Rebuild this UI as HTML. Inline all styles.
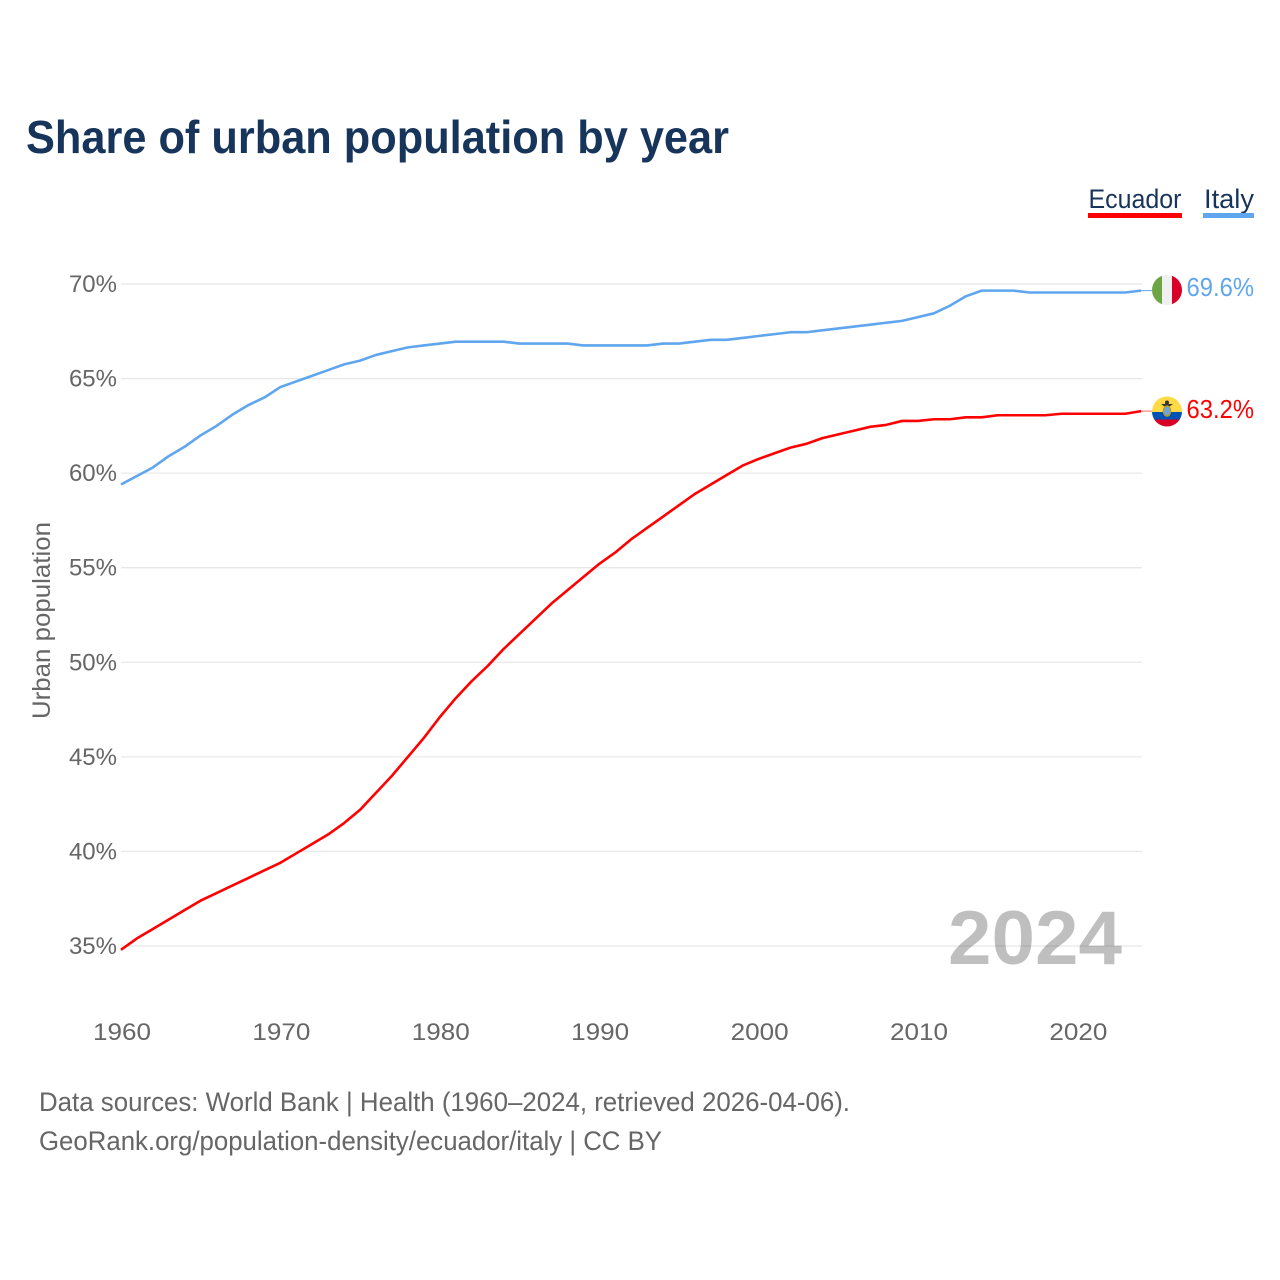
<!DOCTYPE html>
<html lang="en">
<head>
<meta charset="utf-8">
<title>Share of urban population by year</title>
<style>
html,body{margin:0;padding:0;background:#fff}
svg{display:block}
text{font-family:"Liberation Sans",sans-serif}
</style>
</head>
<body>
<svg id="chart" xmlns="http://www.w3.org/2000/svg" width="1280" height="1280" viewBox="0 0 1280 1280">
  <defs>
    <clipPath id="clip-italy"><circle cx="1167" cy="290" r="15"/></clipPath>
    <clipPath id="clip-ecuador"><circle cx="1167" cy="411.5" r="15"/></clipPath>
  </defs>
  <rect width="1280" height="1280" fill="#fff"/>
  <text x="26" y="153" font-size="46" font-weight="700" fill="#17345a" textLength="703" lengthAdjust="spacingAndGlyphs">Share of urban population by year</text>

  <g>
    <g>
      <text x="1088.5" y="208" font-size="27" fill="#17345a" textLength="93" lengthAdjust="spacingAndGlyphs">Ecuador</text>
      <rect x="1088" y="213" width="94" height="5" fill="#ff0000"/>
    </g>
    <g>
      <text x="1204" y="208" font-size="27" fill="#17345a" textLength="50" lengthAdjust="spacingAndGlyphs">Italy</text>
      <rect x="1203" y="213" width="51" height="5" fill="#5fa6ee"/>
    </g>
  </g>

  <g id="grid"></g>
  <g id="y-axis"></g>
  <g id="x-axis"></g>
  <text transform="translate(50,719) rotate(-90)" font-size="25" fill="#666" textLength="197" lengthAdjust="spacingAndGlyphs">Urban population</text>

  <text x="948" y="964" font-size="76" font-weight="700" fill="#000" fill-opacity="0.25" textLength="174" lengthAdjust="spacingAndGlyphs">2024</text>

  <g id="series"></g>

  <g clip-path="url(#clip-italy)">
    <rect x="1152" y="275" width="10" height="30" fill="#6da544"/>
    <rect x="1162" y="275" width="10" height="30" fill="#f0f0f0"/>
    <rect x="1172" y="275" width="10" height="30" fill="#d80027"/>
  </g>
  <g clip-path="url(#clip-ecuador)">
    <rect x="1152" y="396" width="30" height="16" fill="#ffda44"/>
    <rect x="1152" y="412" width="30" height="7.5" fill="#0052b4"/>
    <rect x="1152" y="419.5" width="30" height="8" fill="#d80027"/>
    <path d="M1161 404 L1173 404 L1169.5 406.5 L1164.5 406.5 Z" fill="#333"/>
    <circle cx="1167" cy="402.5" r="2" fill="#333"/>
    <ellipse cx="1167" cy="411" rx="3.6" ry="5" fill="#6da5dc" stroke="#b89a2a" stroke-width="1.4"/>
  </g>

  <text id="label-italy" x="1186.5" y="296" font-size="26" fill="#5fa6ee" textLength="67.5" lengthAdjust="spacingAndGlyphs">69.6%</text>
  <text id="label-ecuador" x="1186.5" y="418" font-size="26" fill="#ff0000" textLength="67.5" lengthAdjust="spacingAndGlyphs">63.2%</text>

  <g>
    <text x="39" y="1111" font-size="27" fill="#666" textLength="811" lengthAdjust="spacingAndGlyphs">Data sources: World Bank | Health (1960–2024, retrieved 2026-04-06).</text>
    <text x="39" y="1150" font-size="27" fill="#666" textLength="623" lengthAdjust="spacingAndGlyphs">GeoRank.org/population-density/ecuador/italy | CC BY</text>
  </g>
</svg>

<script>
const startYear = 1960;
const yTicks = [35, 40, 45, 50, 55, 60, 65, 70];
const xTicks = [1960, 1970, 1980, 1990, 2000, 2010, 2020];
const ecuadorValues = [
  34.8, 35.4, 35.9, 36.4, 36.9, 37.4, 37.8, 38.2, 38.6, 39.0,
  39.4, 39.9, 40.4, 40.9, 41.5, 42.2, 43.1, 44.0, 45.0, 46.0,
  47.1, 48.1, 49.0, 49.8, 50.7, 51.5, 52.3, 53.1, 53.8, 54.5,
  55.2, 55.8, 56.5, 57.1, 57.7, 58.3, 58.9, 59.4, 59.9, 60.4,
  60.75, 61.05, 61.35, 61.55, 61.85, 62.05, 62.25, 62.45, 62.55, 62.76,
  62.76, 62.85, 62.85, 62.95, 62.95, 63.06, 63.06, 63.06, 63.06, 63.14,
  63.14, 63.14, 63.14, 63.14, 63.28
];
const italyValues = [
  59.4, 59.85, 60.3, 60.9, 61.4, 62.0, 62.5, 63.1, 63.6, 64.0,
  64.55, 64.85, 65.15, 65.45, 65.75, 65.95, 66.25, 66.45, 66.65, 66.75,
  66.85, 66.95, 66.95, 66.95, 66.95, 66.85, 66.85, 66.85, 66.85, 66.75,
  66.75, 66.75, 66.75, 66.75, 66.85, 66.85, 66.95, 67.05, 67.05, 67.15,
  67.25, 67.35, 67.45, 67.45, 67.55, 67.65, 67.75, 67.85, 67.95, 68.05,
  68.25, 68.45, 68.85, 69.35, 69.65, 69.65, 69.65, 69.55, 69.55, 69.55,
  69.55, 69.55, 69.55, 69.55, 69.65
];

const SVG_NS = 'http://www.w3.org/2000/svg';
const xScale = year => 121 + (year - 1960) * 15.94;
const yScale = value => 284 + (70 - value) * 18.914;

const gridGroup = document.getElementById('grid');
const yAxisGroup = document.getElementById('y-axis');
const xAxisGroup = document.getElementById('x-axis');
const seriesGroup = document.getElementById('series');

yTicks.forEach(tick => {
  const line = document.createElementNS(SVG_NS, 'line');
  
  
  line.setAttribute('x1', 121);
  line.setAttribute('x2', 1142);
  line.setAttribute('y1', yScale(tick));
  line.setAttribute('y2', yScale(tick));
  line.setAttribute('stroke', '#e8e8e8');
  line.setAttribute('stroke-width', '1.3');
  gridGroup.appendChild(line);

  const label = document.createElementNS(SVG_NS, 'text');
  
  
  label.setAttribute('x', 117);
  label.setAttribute('y', yScale(tick) + 8);
  label.setAttribute('text-anchor', 'end');
  label.setAttribute('font-size', '24');
  label.setAttribute('fill', '#666');
  label.textContent = tick + '%';
  yAxisGroup.appendChild(label);
});

xTicks.forEach(tick => {
  const label = document.createElementNS(SVG_NS, 'text');
  
  
  label.setAttribute('x', xScale(tick) + 1);
  label.setAttribute('y', 1040);
  label.setAttribute('text-anchor', 'middle');
  label.setAttribute('font-size', '24.5');
  label.setAttribute('fill', '#666');
  label.setAttribute('textLength', '58');
  label.setAttribute('lengthAdjust', 'spacingAndGlyphs');
  label.textContent = tick;
  xAxisGroup.appendChild(label);
});

function linePoints(values) {
  return values.map((v, i) => xScale(startYear + i).toFixed(2) + ',' + yScale(v).toFixed(2)).join(' ');
}

const lastIndex = italyValues.length - 1;

const ecuadorLine = document.createElementNS(SVG_NS, 'polyline');


ecuadorLine.setAttribute('points', linePoints(ecuadorValues));
ecuadorLine.setAttribute('fill', 'none');
ecuadorLine.setAttribute('stroke', '#ff0000');
ecuadorLine.setAttribute('stroke-width', '2.6');
ecuadorLine.setAttribute('stroke-linejoin', 'round');
seriesGroup.appendChild(ecuadorLine);

const italyLine = document.createElementNS(SVG_NS, 'polyline');


italyLine.setAttribute('points', linePoints(italyValues));
italyLine.setAttribute('fill', 'none');
italyLine.setAttribute('stroke', '#5fa6ee');
italyLine.setAttribute('stroke-width', '2.6');
italyLine.setAttribute('stroke-linejoin', 'round');
seriesGroup.appendChild(italyLine);

const ecuadorConnector = document.createElementNS(SVG_NS, 'line');


ecuadorConnector.setAttribute('x1', xScale(startYear + lastIndex));
ecuadorConnector.setAttribute('x2', 1152);
ecuadorConnector.setAttribute('y1', yScale(ecuadorValues[lastIndex]));
ecuadorConnector.setAttribute('y2', yScale(ecuadorValues[lastIndex]));
ecuadorConnector.setAttribute('stroke', '#ff0000');
ecuadorConnector.setAttribute('stroke-width', '1');
ecuadorConnector.setAttribute('stroke-opacity', '0.6');
seriesGroup.appendChild(ecuadorConnector);

const italyConnector = document.createElementNS(SVG_NS, 'line');


italyConnector.setAttribute('x1', xScale(startYear + lastIndex));
italyConnector.setAttribute('x2', 1152);
italyConnector.setAttribute('y1', yScale(italyValues[lastIndex]));
italyConnector.setAttribute('y2', yScale(italyValues[lastIndex]));
italyConnector.setAttribute('stroke', '#5fa6ee');
italyConnector.setAttribute('stroke-width', '1');
seriesGroup.appendChild(italyConnector);
</script>
</body>
</html>
